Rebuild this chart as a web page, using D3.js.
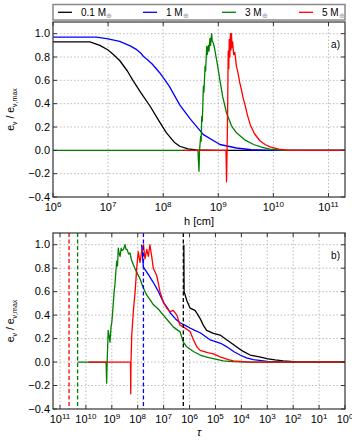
<!DOCTYPE html>
<html>
<head>
<meta charset="utf-8">
<script src="https://cdn.jsdelivr.net/npm/d3@7"></script>
<style>
  body { margin: 0; background: #fff; }
  svg { font-family: "Liberation Sans", Arial, sans-serif; }
  .grid line { stroke: #aaa; stroke-dasharray: 1.5,2; stroke-width: 0.8; }
</style>
</head>
<body>
<svg id="chart" width="352" height="440"></svg>
<script>
// masses for the legend
const masses = ["0.1", "1", "3", "5"];
const colors = ["#000000", "#0000ff", "#008000", "#ff0000"];

// panel a): [log10 h (cm), e/e_max]
const topBlack = [[6,0.93],[6.67,0.93],[6.85,0.9],[7.0,0.86],[7.1,0.82],[7.21,0.77],[7.35,0.68],[7.45,0.6],[7.6,0.49],[7.76,0.38],[7.94,0.24],[8.06,0.15],[8.2,0.07],[8.3,0.035],[8.45,0.012],[8.6,0.003],[9.0,0],[11.3,0]];
const topBlue = [[6,0.97],[6.79,0.97],[7.0,0.955],[7.21,0.934],[7.4,0.895],[7.52,0.863],[7.6,0.83],[7.64,0.806],[7.68,0.79],[7.72,0.775],[7.8,0.74],[7.94,0.663],[8.11,0.55],[8.3,0.39],[8.49,0.27],[8.73,0.135],[9.03,0.05],[9.33,0.02],[9.6,0.005],[10.0,0],[11.3,0]];
const topGreen = [[6,0],[8.63,0],[8.65,-0.18],[8.66,0],[8.68,0.12],[8.69,0.08],[8.7,0.29],[8.71,0.25],[8.73,0.55],[8.74,0.5],[8.76,0.72],[8.77,0.68],[8.79,0.89],[8.8,0.82],[8.82,0.9],[8.83,0.85],[8.85,0.96],[8.86,0.9],[8.88,1.0],[8.89,0.94],[8.91,0.92],[8.93,0.88],[8.96,0.8],[8.99,0.72],[9.03,0.6],[9.08,0.46],[9.15,0.32],[9.24,0.21],[9.33,0.15],[9.48,0.09],[9.64,0.05],[9.8,0.025],[9.94,0.01],[10.2,0],[11.3,0]];
const topRed = [[8.35,0],[9.14,0],[9.15,-0.27],[9.16,0],[9.17,0.35],[9.18,0.85],[9.19,0.7],[9.2,0.95],[9.21,0.8],[9.22,1.0],[9.23,0.86],[9.24,1.0],[9.25,0.88],[9.26,0.93],[9.28,0.82],[9.3,0.84],[9.33,0.72],[9.36,0.66],[9.39,0.58],[9.42,0.52],[9.45,0.45],[9.48,0.4],[9.53,0.3],[9.58,0.22],[9.66,0.14],[9.76,0.08],[9.85,0.05],[9.94,0.03],[10.1,0.01],[10.3,0],[11.3,0]];

// panel b): [log10 tau, e/e_max]
const botBlack = [[6.22,1.0],[6.21,0.6],[6.1,0.52],[5.98,0.46],[5.79,0.44],[5.7,0.41],[5.59,0.37],[5.47,0.315],[5.34,0.27],[5.08,0.245],[4.82,0.23],[4.69,0.21],[4.5,0.18],[4.31,0.15],[4.0,0.1],[3.66,0.06],[3.3,0.045],[3.02,0.03],[2.7,0.018],[2.38,0.01],[1.73,0],[0,0]];
const botBlue = [[7.85,1.0],[7.78,0.81],[7.6,0.75],[7.4,0.68],[7.2,0.6],[7.01,0.51],[6.85,0.46],[6.75,0.42],[6.55,0.37],[6.37,0.335],[6.15,0.31],[5.98,0.29],[5.8,0.27],[5.59,0.25],[5.4,0.22],[5.21,0.19],[5.08,0.18],[4.8,0.16],[4.56,0.13],[4.3,0.09],[4.05,0.06],[3.8,0.035],[3.54,0.02],[3.0,0.006],[2.5,0.001],[0,0]];
const botGreen = [[10.32,0],[9.22,0],[9.2,-0.18],[9.18,0],[9.14,0.27],[9.07,0.17],[9.03,0.3],[9.0,0.34],[8.97,0.42],[8.94,0.51],[8.91,0.6],[8.88,0.66],[8.84,0.78],[8.81,0.86],[8.78,0.82],[8.75,0.97],[8.72,0.93],[8.68,0.9],[8.64,0.97],[8.61,0.95],[8.55,0.96],[8.49,1.0],[8.45,0.96],[8.41,0.96],[8.35,0.92],[8.3,0.93],[8.24,0.87],[8.17,0.83],[8.05,0.77],[7.91,0.71],[7.8,0.64],[7.65,0.57],[7.52,0.53],[7.4,0.49],[7.2,0.45],[7.01,0.4],[6.82,0.35],[6.63,0.3],[6.45,0.27],[6.37,0.26],[6.24,0.17],[6.11,0.13],[5.85,0.09],[5.59,0.06],[5.3,0.04],[5.08,0.03],[4.7,0.01],[4.31,0.003],[3.8,0],[0,0]];
const botRed = [[9.9,0],[8.28,0],[8.27,-0.27],[8.26,0],[8.23,0.23],[8.17,0.43],[8.1,0.6],[8.04,0.8],[7.98,0.94],[7.91,0.85],[7.85,0.94],[7.78,1.0],[7.72,0.88],[7.65,0.96],[7.59,0.9],[7.53,1.0],[7.46,0.9],[7.4,0.8],[7.27,0.74],[7.14,0.6],[7.01,0.51],[6.88,0.46],[6.75,0.43],[6.63,0.44],[6.49,0.4],[6.37,0.315],[6.24,0.3],[5.98,0.26],[5.85,0.19],[5.72,0.13],[5.59,0.1],[5.3,0.08],[5.08,0.07],[4.82,0.045],[4.5,0.02],[4.31,0.01],[3.66,0],[0,0]];

// dashed markers in panel b): log10 tau
const markerLg = [6.24, 7.78, 10.32, 10.65];
const markerColor = ["#000000", "#0000ff", "#008000", "#ff0000"];

const yTicks = [-0.4, -0.2, 0.0, 0.2, 0.4, 0.6, 0.8, 1.0];
const topXTicks = [6, 7, 8, 9, 10, 11];
const botXTicks = [11, 10, 9, 8, 7, 6, 5, 4, 3, 2, 1, 0];

const svg = d3.select("#chart");
const left = 53, right = 345;

// función para dibujar un panel
function drawPanel(cfg) {
  const x = d3.scaleLog().domain(cfg.xDomain).range([left, right]);
  const y = d3.scaleLinear().domain([-0.4, 1.1]).range([cfg.bottom, cfg.top]);
  const g = svg.append("g");

  // grid
  const grid = g.append("g").attr("class", "grid");
  grid.selectAll("line.v").data(cfg.xTicks.map(e => Math.pow(10, e)).filter(v => x(v) > left + 1 && x(v) < right - 1))
    .enter().append("line")
    .attr("x1", d => x(d)).attr("x2", d => x(d))
    .attr("y1", cfg.top).attr("y2", cfg.bottom);
  grid.selectAll("line.h").data(yTicks.filter(v => v > -0.4))
    .enter().append("line")
    .attr("x1", left).attr("x2", right)
    .attr("y1", d => y(d)).attr("y2", d => y(d));

  const clip = "clip" + cfg.name;
  g.append("clipPath").attr("id", clip).append("rect")
    .attr("x", left).attr("y", cfg.top).attr("width", right - left).attr("height", cfg.bottom - cfg.top);

  const line = d3.line().x(d => x(Math.pow(10, d[0]))).y(d => y(d[1]));
  const lines = g.append("g").attr("clip-path", `url(#${clip})`);
  cfg.series.forEach((s, i) => {
    lines.append("path").datum(s)
      .attr("d", line)
      .attr("fill", "none")
      .attr("stroke", colors[i])
      .attr("stroke-width", 1.3)
      .attr("stroke-linejoin", "round");
  });

  if (cfg.markers) {
    lines.selectAll("line.marker").data(cfg.markers).enter().append("line")
      .attr("x1", d => x(Math.pow(10, d))).attr("x2", d => x(Math.pow(10, d)))
      .attr("y1", cfg.top).attr("y2", cfg.bottom)
      .attr("stroke", (d, i) => markerColor[i])
      .attr("stroke-width", 1.3)
      .attr("stroke-dasharray", "4,2.5");
  }

  // frame
  g.append("rect")
    .attr("x", left).attr("y", cfg.top).attr("width", right - left).attr("height", cfg.bottom - cfg.top)
    .attr("fill", "none").attr("stroke", "#333").attr("stroke-width", 1.2);

  // y ticks
  yTicks.forEach(v => {
    g.append("line").attr("x1", left).attr("x2", left + 4).attr("y1", y(v)).attr("y2", y(v)).attr("stroke", "#333");
    g.append("line").attr("x1", right).attr("x2", right - 4).attr("y1", y(v)).attr("y2", y(v)).attr("stroke", "#333");
    g.append("text").attr("x", left - 3).attr("y", y(v) + 3.5)
      .attr("text-anchor", "end").attr("font-size", 11)
      .text(v < 0 ? "\u2212" + Math.abs(v).toFixed(1) : v.toFixed(1));
  });

  // x ticks
  cfg.xTicks.forEach(e => {
    const px = x(Math.pow(10, e));
    g.append("line").attr("x1", px).attr("x2", px).attr("y1", cfg.bottom).attr("y2", cfg.bottom - 4).attr("stroke", "#333");
    g.append("line").attr("x1", px).attr("x2", px).attr("y1", cfg.top).attr("y2", cfg.top + 4).attr("stroke", "#333");
    const t = g.append("text").attr("x", px).attr("y", cfg.bottom + 14)
      .attr("text-anchor", "middle").attr("font-size", 11);
    t.append("tspan").text("10");
    t.append("tspan").attr("font-size", 8).attr("dy", -4.5).text(e);
  });

  // axis labels
  g.append("text").attr("x", 199).attr("y", cfg.xLabelY)
    .attr("text-anchor", "middle").attr("font-size", 11)
    .attr("font-style", cfg.xItalic ? "italic" : "normal")
    .text(cfg.xLabel);

  const yl = g.append("text")
    .attr("transform", `translate(14,${(cfg.top + cfg.bottom) / 2}) rotate(-90)`)
    .attr("text-anchor", "middle").attr("font-size", 10.5);
  yl.append("tspan").text("e");
  yl.append("tspan").attr("font-size", 7).attr("dy", 3).text("\u03bd");
  yl.append("tspan").attr("dy", -3).text(" / e");
  yl.append("tspan").attr("font-size", 7).attr("dy", 3).text("\u03bd,max");

  g.append("text").attr("x", 340).attr("y", cfg.top + 26)
    .attr("text-anchor", "end").attr("font-size", 10)
    .text(cfg.name + ")");
}

drawPanel({
  name: "a", top: 22, bottom: 197,
  xDomain: [1e6, Math.pow(10, 11.3)],
  xTicks: topXTicks,
  series: [topBlack, topBlue, topGreen, topRed],
  xLabel: "h [cm]", xLabelY: 225
});

drawPanel({
  name: "b", top: 233, bottom: 409,
  xDomain: [Math.pow(10, 11.27), 1],
  xTicks: botXTicks,
  series: [botBlack, botBlue, botGreen, botRed],
  markers: markerLg,
  xLabel: "\u03c4", xLabelY: 436, xItalic: true
});

// legend
const legend = svg.append("g");
legend.append("rect")
  .attr("x", 53).attr("y", 4.5).attr("width", 292).attr("height", 15.5)
  .attr("fill", "#fff").attr("stroke", "#888").attr("stroke-width", 1.5);
const legX = [58, 143, 222, 299];
masses.forEach((m, i) => {
  legend.append("line")
    .attr("x1", legX[i]).attr("x2", legX[i] + 14)
    .attr("y1", 12.3).attr("y2", 12.3)
    .attr("stroke", colors[i]).attr("stroke-width", 1.3);
  const t = legend.append("text").attr("x", legX[i] + 23).attr("y", 16)
    .attr("font-size", 10);
  t.append("tspan").text(m + " M");
  t.append("tspan").attr("font-size", 7).attr("dy", 2).attr("fill", "#999").text("\u2295");
});
</script>
</body>
</html>
